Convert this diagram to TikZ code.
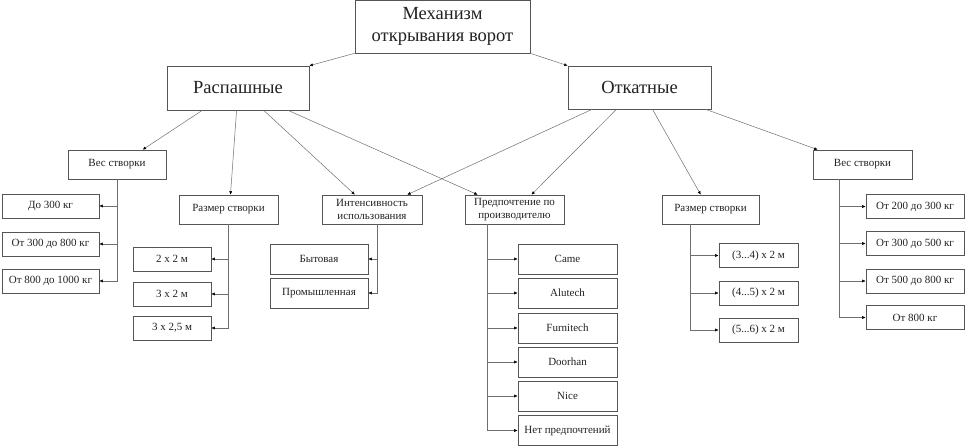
\documentclass[tikz,border=0pt]{standalone}
\usepackage{fontspec}
\setmainfont{Liberation Serif}
\usepackage{tikz}
\definecolor{ink}{HTML}{222222}
\definecolor{frame}{HTML}{555555}
\definecolor{wire}{HTML}{6E6E6E}
\usetikzlibrary{
  arrows.meta,
  calc,
  shadows
}
\tikzset{
  every node/.style={text=ink},
  shadowed/.style={
    drop shadow={shadow xshift=0.8pt, shadow yshift=-0.8pt, fill=black!35, opacity=0.6}
  },
  box/.style={
    draw=frame,
    fill=white,
    line width=0.6pt,
    align=center,
    inner sep=1pt,
    font=\fontsize{11}{13}\selectfont,
    shadowed
  },
  bigbox/.style={box, font=\fontsize{18.5}{22}\selectfont},
  arrow/.style={-{Latex[length=3.5pt,width=3pt,color=black]}, line width=0.5pt, draw=wire},
  branch/.style={line width=0.5pt, draw=wire}
}

\begin{document}
\begin{tikzpicture}[x=1pt, y=-1pt]
  \useasboundingbox (0,0) rectangle (966,446);

  % top levels
  \node[bigbox, minimum width=175pt, minimum height=53pt] (root) at (442.5,26.5) {Механизм\\открывания ворот};
  \node[bigbox, minimum width=142pt, minimum height=44pt] (swing) at (238,88) {Распашные};
  \node[bigbox, minimum width=143pt, minimum height=43pt] (slide) at (639.5,87.5) {Откатные};

  \draw[arrow] (root.south west) -- (swing.north east);
  \draw[arrow] (root.south east) -- (slide.north west);

  % criteria
  \node[box, minimum width=98pt, minimum height=29pt] (weightL) at (117,164.5) {Вес створки};
  \node[box, minimum width=99pt, minimum height=29pt] (sizeL) at (228.5,209.5) {Размер створки};
  \node[box, minimum width=100pt, minimum height=29pt] (usage) at (372,209.5) {Интенсивность\\использования};
  \node[box, minimum width=99pt, minimum height=29pt] (maker) at (514.5,209.5) {Предпочтение по\\производителю};
  \node[box, minimum width=97pt, minimum height=29pt] (sizeR) at (710.5,209.5) {Размер створки};
  \node[box, minimum width=99pt, minimum height=29pt] (weightR) at (862.5,164.5) {Вес створки};

  \draw[arrow] ($(swing.south west)!0.25!(swing.south east)$) -- ($(weightL.north west)!0.76!(weightL.north east)$);
  \draw[arrow] ($(swing.south west)!0.49!(swing.south east)$) -- ($(sizeL.north west)!0.52!(sizeL.north east)$);
  \draw[arrow] ($(swing.south west)!0.68!(swing.south east)$) -- ($(usage.north west)!0.33!(usage.north east)$);
  \draw[arrow] ($(swing.south west)!0.85!(swing.south east)$) -- ($(maker.north west)!0.13!(maker.north east)$);
  \draw[arrow] ($(slide.south west)!0.17!(slide.south east)$) -- ($(usage.north west)!0.85!(usage.north east)$);
  \draw[arrow] ($(slide.south west)!0.34!(slide.south east)$) -- ($(maker.north west)!0.67!(maker.north east)$);
  \draw[arrow] ($(slide.south west)!0.59!(slide.south east)$) -- ($(sizeR.north west)!0.40!(sizeR.north east)$);
  \draw[arrow] ($(slide.south west)!0.96!(slide.south east)$) -- ($(weightR.north west)!0.05!(weightR.north east)$);

  % options: swing gate weight
  \node[box, minimum width=97pt, minimum height=24pt] (wL1) at (50.5,206) {До 300 кг};
  \node[box, minimum width=97pt, minimum height=24pt] (wL2) at (50.5,244) {От 300 до 800 кг};
  \node[box, minimum width=97pt, minimum height=24pt] (wL3) at (50.5,281) {От 800 до 1000 кг};
  \draw[arrow] (weightL.south) |- (wL1.east);
  \draw[arrow] (weightL.south) |- (wL2.east);
  \draw[arrow] (weightL.south) |- (wL3.east);

  % options: swing gate size
  \node[box, minimum width=78pt, minimum height=24pt] (sL1) at (172,259) {2 х 2 м};
  \node[box, minimum width=78pt, minimum height=24pt] (sL2) at (172,294) {3 х 2 м};
  \node[box, minimum width=78pt, minimum height=24pt] (sL3) at (172,328) {3 х 2,5 м};
  \draw[arrow] (sizeL.south) |- (sL1.east);
  \draw[arrow] (sizeL.south) |- (sL2.east);
  \draw[arrow] (sizeL.south) |- (sL3.east);

  % options: usage
  \node[box, minimum width=98pt, minimum height=30pt] (u1) at (319,259) {Бытовая};
  \node[box, minimum width=98pt, minimum height=30pt] (u2) at (319,293) {Промышленная};
  \coordinate (usageT) at ($(usage.south west)!0.55!(usage.south east)$);
  \draw[arrow] (usageT) |- (u1.east);
  \draw[arrow] (usageT) |- (u2.east);

  % options: manufacturer
  \node[box, minimum width=99pt, minimum height=30pt] (m1) at (567.5,259) {Came};
  \node[box, minimum width=99pt, minimum height=30pt] (m2) at (567.5,293) {Alutech};
  \node[box, minimum width=99pt, minimum height=30pt] (m3) at (567.5,328) {Furnitech};
  \node[box, minimum width=99pt, minimum height=30pt] (m4) at (567.5,362) {Doorhan};
  \node[box, minimum width=99pt, minimum height=30pt] (m5) at (567.5,396) {Nice};
  \node[box, minimum width=99pt, minimum height=30pt] (m6) at (567.5,430.5) {Нет предпочтений};
  \coordinate (makerT) at ($(maker.south west)!0.23!(maker.south east)$);
  \draw[arrow] (makerT) |- (m1.west);
  \draw[arrow] (makerT) |- (m2.west);
  \draw[arrow] (makerT) |- (m3.west);
  \draw[arrow] (makerT) |- (m4.west);
  \draw[arrow] (makerT) |- (m5.west);
  \draw[arrow] (makerT) |- (m6.west);

  % options: sliding gate size
  \node[box, minimum width=79pt, minimum height=24pt] (sR1) at (758.5,255.5) {(3...4) х 2 м};
  \node[box, minimum width=79pt, minimum height=24pt] (sR2) at (758.5,293) {(4...5) х 2 м};
  \node[box, minimum width=79pt, minimum height=24pt] (sR3) at (758.5,330) {(5...6) х 2 м};
  \coordinate (sizeRT) at ($(sizeR.south west)!0.29!(sizeR.south east)$);
  \draw[arrow] (sizeRT) |- (sR1.west);
  \draw[arrow] (sizeRT) |- (sR2.west);
  \draw[arrow] (sizeRT) |- (sR3.west);

  % options: sliding gate weight
  \node[box, minimum width=98pt, minimum height=24pt] (wR1) at (915,206.5) {От 200 до 300 кг};
  \node[box, minimum width=98pt, minimum height=24pt] (wR2) at (915,243.5) {От 300 до 500 кг};
  \node[box, minimum width=98pt, minimum height=24pt] (wR3) at (915,281) {От 500 до 800 кг};
  \node[box, minimum width=98pt, minimum height=24pt] (wR4) at (915,317.5) {От 800 кг};
  \coordinate (weightRT) at ($(weightR.south west)!0.27!(weightR.south east)$);
  \draw[arrow] (weightRT) |- (wR1.west);
  \draw[arrow] (weightRT) |- (wR2.west);
  \draw[arrow] (weightRT) |- (wR3.west);
  \draw[arrow] (weightRT) |- (wR4.west);
\end{tikzpicture}
\end{document}
